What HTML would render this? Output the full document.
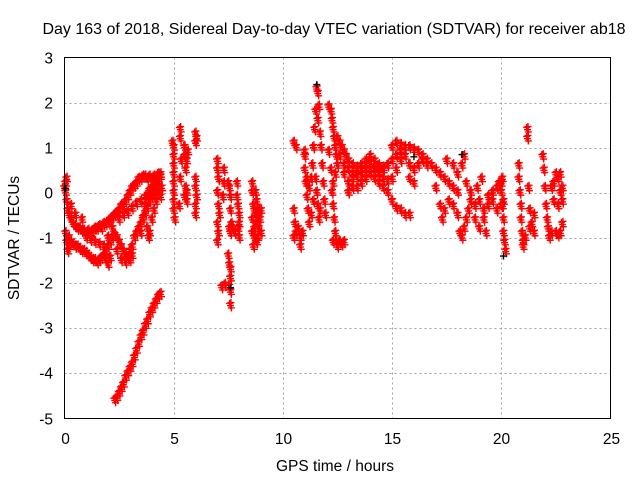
<!DOCTYPE html>
<html><head><meta charset="utf-8"><style>
html,body{margin:0;padding:0;background:#fff;}
svg{display:block;font-family:"Liberation Sans",sans-serif;}
</style></head><body>
<svg id="chart" width="640" height="480" viewBox="0 0 640 480" xmlns="http://www.w3.org/2000/svg">
<text x="334" y="34" font-size="16" text-anchor="middle" fill="#000">Day 163 of 2018, Sidereal Day-to-day VTEC variation (SDTVAR) for receiver ab18</text>
<g id="grid"></g>
<g id="ticks"></g>
<g id="marks"></g>
<rect x="64.5" y="57.5" width="546" height="361" fill="none" stroke="#000" stroke-width="1"/>
<text x="335" y="471" font-size="15.5" text-anchor="middle">GPS time / hours</text>
<text x="19" y="238" font-size="15.5" text-anchor="middle" transform="rotate(-90 19 238)">SDTVAR / TECUs</text>
</svg>
<script>
const xTicks=[0,5,10,15,20,25];
const yTicks=[3,2,1,0,-1,-2,-3,-4,-5];
const redPts=[
[0,0.1],[0.05,0],[0.1,-0.2],[0.15,-0.4],[0.2,-0.5],[0.3,-0.6],[0.4,-0.7],[0.5,-0.75],[0.6,-0.8],[0.7,-0.8],[0.8,-0.85],[0.9,-0.85],[1.0,-0.9],[1.1,-0.85],[1.2,-0.9],[1.3,-0.85],[1.4,-0.8],[1.5,-0.8],[1.6,-0.75],[1.7,-0.8],[1.8,-0.7],[1.9,-0.7],[2.0,-0.65],[2.1,-0.6],[2.2,-0.55],[2.3,-0.5],[2.4,-0.45],[2.5,-0.4],[2.6,-0.3],[2.7,-0.3],[2.8,-0.2],[2.9,-0.1],[3.0,0],[3.1,0.1],[3.2,0.15],[3.3,0.2],[3.4,0.3],[3.5,0.3],[3.6,0.35],[3.7,0.35],[3.8,0.3],[3.9,0.35],[4.0,0.3],[4.1,0.35],[4.2,0.3],[4.3,0.4],[4.4,0.35],
[0.2,-1.0],[0.3,-1.1],[0.4,-1.15],[0.5,-1.2],[0.6,-1.2],[0.7,-1.25],[0.8,-1.3],[0.9,-1.3],[1.0,-1.35],[1.1,-1.4],[1.2,-1.45],[1.3,-1.5],[1.4,-1.5],[1.5,-1.55],[1.6,-1.5],[1.7,-1.45],[1.8,-1.4],[1.9,-1.3],[2.0,-1.2],[2.1,-1.1],[2.2,-1.0],[2.3,-0.95],[2.4,-1.0],[2.5,-1.1],[2.6,-1.2],[2.7,-1.3],[2.8,-1.4],[2.9,-1.45],[3.0,-1.3],[3.1,-1.2],[3.2,-1.0],[3.3,-0.9],[3.4,-0.8],[3.5,-0.7],[3.6,-0.55],[3.7,-0.45],[3.8,-0.35],[3.9,-0.2],[4.0,-0.1],[4.1,-0.05],[4.2,-0.1],[4.3,0],[4.4,-0.1],
[0.05,-0.9],[0.1,-1.1],[0.15,-1.3],[0.2,-1.2],[0.1,0.3],[0.05,0.2],[0.3,-0.3],[0.5,-0.5],[0.8,-0.6],[1.0,-1.0],[1.2,-1.05],[1.4,-1.1],[1.6,-1.15],[1.8,-1.2],[1.9,-1.5],[2.0,-1.6],[2.1,-1.45],[2.0,-1.0],[2.2,-0.8],[2.4,-1.3],[2.6,-1.5],[2.8,-1.55],[3.0,-1.5],[3.1,-1.4],
[2.5,-0.6],[2.7,-0.5],[2.9,-0.45],[3.1,-0.35],[3.3,-0.25],[3.5,-0.2],[3.7,-0.1],[3.9,0],[4.1,0.05],[4.3,0.1],[4.45,0.1],
[3.5,-0.9],[3.6,-0.6],[3.7,-0.3],[3.8,-0.1],[3.9,0.05],[4.0,0.1],[4.1,0.2],[4.2,0.25],[4.3,0.3],[4.4,0.4],
[3.8,-0.8],[3.85,-1.0],[3.9,-0.9],[4.0,-0.6],[4.1,-0.4],[4.2,-0.2],
[2.3,-4.6],[2.4,-4.55],[2.5,-4.45],[2.6,-4.35],[2.7,-4.25],[2.8,-4.1],[2.9,-4.0],[3.0,-3.9],[3.1,-3.8],[3.2,-3.65],[3.3,-3.5],[3.4,-3.35],[3.5,-3.2],[3.6,-3.1],[3.7,-2.95],[3.8,-2.85],[3.9,-2.7],[4.0,-2.6],[4.1,-2.5],[4.2,-2.4],[4.3,-2.3],[4.4,-2.25],
[5,0.6],[5,0.4],[5,0.2],[5,0],[5,-0.2],[5,-0.4],[5,0.8],[5,1.0],[4.95,1.1],[5.05,-0.6],[5.3,1.4],[5.3,1.2],[5.35,0.7],[5.3,0.3],[5.25,-0.3],[5.5,1.0],[5.5,0.8],[5.55,0.5],[5.6,0.7],[5.55,0.1],[5.5,-0.1],[5.6,0],[5.6,-0.2],[5.65,0.9],[6,1.3],[6.05,1.2],[6,1.1],[6,0.3],[6,0.1],[6.05,-0.1],[6,-0.3],[6,-0.5],
[7.0,0.7],[7.0,0.5],[7.05,0.3],[7.0,0],[7.05,-0.3],[7.1,-0.5],[7.0,-0.7],[7.05,-0.9],[7.0,-1.1],[7.3,0.5],[7.3,0.2],[7.25,-0.1],[7.2,-2.1],[7.35,-2.05],[7.5,0.2],[7.55,0.1],[7.6,-0.1],[7.6,-0.4],[7.55,-0.8],[7.6,-0.9],[7.5,-1.4],[7.55,-1.6],[7.6,-1.7],[7.6,-1.9],[7.55,-2.1],[7.6,-2.5],[7.6,-2.2],[7.65,-0.7],[7.7,-0.8],[7.8,-0.9],[7.9,0.2],[7.9,-0.1],[7.95,-0.3],[8.0,-0.5],[8.0,-0.7],[7.95,-0.8],[8.0,-1.0],
[8.6,0.2],[8.6,0],[8.65,-0.3],[8.6,-0.6],[8.7,-0.8],[8.7,-1.0],[8.65,-1.2],[8.75,-0.5],[8.8,-0.2],[8.8,-0.7],[8.85,-1.0],[8.9,-0.4],[8.9,-0.8],[8.95,-0.6],[9.0,-0.9],[8.7,-0.4],[8.8,-1.1],[8.6,-0.9],[8.75,0],[8.85,-0.5],[9.0,-0.4],
[10.5,1.1],[10.6,1.0],[10.5,-0.4],[10.55,-0.7],[10.6,-0.9],[10.5,-1.0],[10.7,-0.8],[10.8,-1.0],[10.9,-0.9],[10.8,-1.2],
[11.0,0.8],[11.0,0.5],[11.05,0.2],[11.1,-0.1],[11.15,-0.4],[11.2,-0.7],[11.3,0.3],[11.35,0.6],[11.4,1.0],[11.45,1.4],[11.5,1.8],[11.55,2.3],[11.6,2.2],[11.65,1.9],[11.6,1.6],[11.7,1.3],[11.75,1.0],[11.8,0.6],[11.85,0.2],[11.9,-0.2],[11.95,-0.5],[11.5,0.3],[11.55,0],[11.6,-0.3],[11.65,-0.6],[11.7,-0.4],[11.4,-0.2],[11.3,-0.5],[11.2,0.1],[11.1,0.3],[11.0,0.9],
[12.1,1.9],[12.2,1.8],[12.25,1.6],[12.3,1.4],[12.35,1.2],[12.4,1.0],[12.45,0.8],[12.5,0.6],[12.4,0.4],[12.3,0.2],[12.25,0],[12.3,-0.3],[12.35,-0.6],[12.4,-0.9],[12.45,-1.1],[12.5,-1.2],[12.6,-1.1],[12.7,-1.15],[12.8,-1.1],[12.3,-1.1],[12.2,0.5],[12.1,0.9],
[12.5,1.2],[12.6,1.1],[12.7,1.0],[12.8,0.9],[12.9,0.8],[13,0.7],[13.2,0.6],[13.4,0.55],[13.6,0.5],[13.8,0.5],[14,0.5],[14.2,0.5],[14.4,0.45],[14.6,0.5],[14.8,0.6],[15,0.7],[15.2,0.8],[15.4,0.9],[15.6,1.0],[15.8,1.0],[16,0.95],[16.2,0.9],[16.4,0.8],[16.6,0.7],[16.8,0.6],[17,0.5],[17.2,0.4],[17.4,0.3],[17.6,0.2],[17.8,0.1],[18,0.0],
[12.8,0.4],[13,0.2],[13.2,0.1],[13.4,0.1],[13.6,0.2],[13.8,0.3],[14,0.4],[14.2,0.3],[14.4,0.2],[14.6,0.1],[14.8,0],[15,-0.2],[15.2,-0.35],[15.4,-0.4],[15.6,-0.5],[15.8,-0.5],
[13,0],[13.2,0.3],[13.4,0.5],[13.6,0.6],[13.8,0.7],[14,0.65],[14.2,0.55],[14.4,0.4],[14.6,0.3],[14.8,0.25],[15,0.3],[15.2,0.5],[15.4,0.7],[15.6,0.8],[15.8,0.6],[16,0.5],[16.2,0.6],[16.4,0.7],[16.6,0.6],
[12.6,0.8],[12.8,0.6],[13,0.5],[13.2,0.4],[13.4,0.35],[13.6,0.4],[13.8,0.6],[14,0.8],[14.2,0.7],[14.4,0.6],[14.6,0.55],[15,1.0],[15.2,1.1],[15.4,1.05],[15.8,0.3],[16,0.2],
[17,0.1],[17.2,-0.3],[17.3,-0.6],[17.4,-0.4],[17.6,-0.2],[17.8,-0.3],[18,-0.5],[18.1,-0.9],[18.2,-1.0],[18.3,-0.8],[18.4,-0.6],[18.5,-0.4],[18.6,-0.2],[18.8,-0.3],[19,-0.2],[19.2,-0.4],[19.4,-0.3],[19.6,-0.2],[19.8,-0.4],[20,-0.3],
[17.8,0.6],[18,0.4],[18.2,0.6],[18.4,0.2],[18.6,0],[18.8,-0.6],[19,-0.8],[19.2,-0.6],[19.4,-0.1],[19.6,0],[19.8,0.1],[19.9,0.2],[18.3,0.8],[17.5,0.7],[18.9,0.1],[19.1,0.3],[19.3,-0.9],
[20,0.2],[20,0],[20.05,-0.3],[20.1,-0.6],[20.1,-0.9],[20.15,-1.1],[20.2,-1.3],[20.1,-0.2],[20.05,0.3],
[20.8,0.6],[20.8,0.3],[20.85,0],[20.9,-0.3],[20.9,-0.6],[20.95,-0.9],[21,-1.1],[21,-1.2],[21.1,-1.0],[21.2,1.4],[21.2,1.2],[21.25,0.1],[21.3,-0.4],[21.3,-0.8],[21.4,-0.7],[21.5,-0.9],[21.5,-0.5],
[21.9,0.8],[21.95,0.5],[22,0.1],[22.05,-0.3],[22.1,-0.6],[22.15,-0.8],[22.2,-1.0],[22.3,-0.9],[22.4,-0.2],[22.4,0.2],[22.5,0.4],[22.6,0.3],[22.7,0.4],[22.8,0.1],[22.5,-0.9],[22.6,-0.95],[22.7,-0.9],[22.8,-0.7],[22.6,-0.3],[22.7,0],[22.8,-0.2],[22.3,0.1]
];
const blackPts=[[0.05,0.1],[7.6,-2.1],[11.55,2.4],[18.2,0.85],[20.1,-1.4],[16,0.8]];

const X0=64.5,X1=610.5,Y0=418.5,Y1=57.5;
function sx(t){return X0+(t-0)/(25-0)*(X1-X0);}
function sy(v){return Y0-(v+5)/8*(Y0-Y1);}
const NS='http://www.w3.org/2000/svg';
const grid=document.getElementById('grid'),ticks=document.getElementById('ticks'),marks=document.getElementById('marks');
function el(tag,attrs,parent){const e=document.createElementNS(NS,tag);for(const k in attrs)e.setAttribute(k,attrs[k]);parent.appendChild(e);return e;}
xTicks.forEach(t=>{
  const x=Math.round(sx(t))+0.5;
  if(t>0&&t<25){const g=el('line',{x1:x,x2:x,y1:Y1,y2:Y0,stroke:'#a0a0a0','stroke-dasharray':'2,3'},grid);
  
  }
  const l=el('text',{x:x,y:444,'font-size':15.5,'text-anchor':'middle'},ticks);
  l.textContent=t;
  
  
});
yTicks.forEach(v=>{
  const y=Math.round(sy(v))+0.5;
  if(v>-5&&v<3){const g=el('line',{x1:X0,x2:X1,y1:y,y2:y,stroke:'#a0a0a0','stroke-dasharray':'2,3'},grid);
  
  }
  const l=el('text',{x:53,y:y+5,'font-size':15.5,'text-anchor':'end'},ticks);
  l.textContent=v;
  
  
});
function plus(p,color){
  const x=sx(p[0]),y=sy(p[1]);
  const m=el('path',{d:`M${x-3.5} ${y}H${x+3.5}M${x} ${y-3.5}V${y+3.5}`,stroke:color,'stroke-width':1.4,fill:'none'},marks);
  
  
}
redPts.forEach(p=>{
  plus(p,'#ff0000');
  plus([p[0]+0.04,p[1]-0.05],'#ff0000');
  plus([p[0]-0.04,p[1]+0.05],'#ff0000');
  plus([p[0]+0.02,p[1]+0.07],'#ff0000');
});
blackPts.forEach(p=>plus(p,'#000'));
</script>
</body></html>
